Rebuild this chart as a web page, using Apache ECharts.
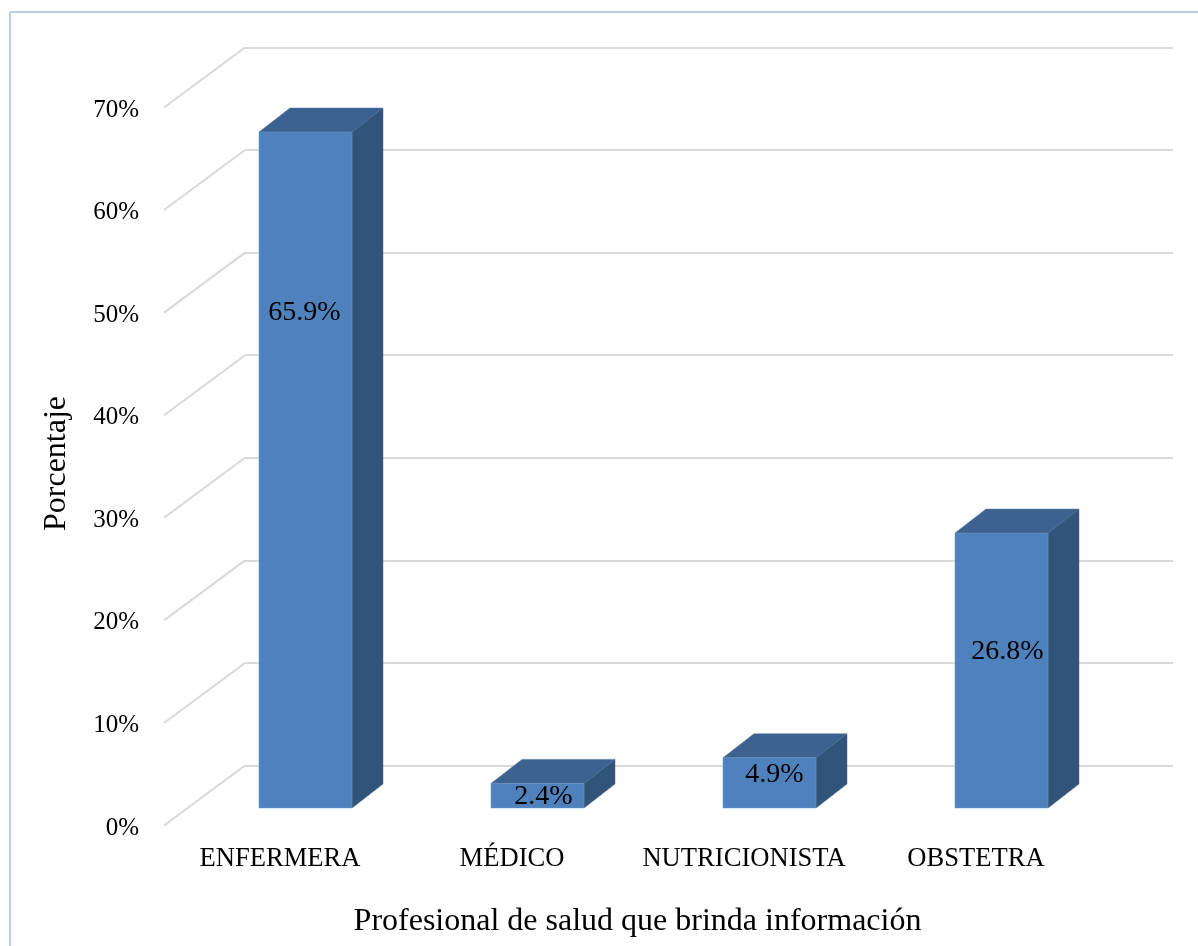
<!DOCTYPE html>
<html>
<head>
<meta charset="utf-8">
<style>html,body{margin:0;padding:0;background:#fff}#chart{width:1198px;height:946px}</style>
<script src="https://cdn.jsdelivr.net/npm/echarts@6/dist/echarts.min.js"></script>
</head>
<body>
<div id="chart"></div>
<script>
const categories = ['ENFERMERA', 'MÉDICO', 'NUTRICIONISTA', 'OBSTETRA'];
const values = [65.9, 2.4, 4.9, 26.8];
const valueLabels = ['65.9%', '2.4%', '4.9%', '26.8%'];
// height (in axis units) at which each data label sits inside its bar
const labelLevels = [48.3, 1.1, 3.3, 15.2];
const labelShiftX = [-1, 6, 5, 6];
const yTicks = [0, 10, 20, 30, 40, 50, 60, 70];

const FONT = '"Liberation Serif","Times New Roman",serif';
const DEPTH_X = 81, DEPTH_Y = 60;        // wall -> front of the floor
const FRONT_X = 55.5, FRONT_Y = 42.5;    // wall -> bar front face
const BACK_X = 24.5, BACK_Y = 18.5;      // wall -> bar back face
const HALF_W = 46.5;
const GRID_COLOR = '#d9d9d9';

function renderBar(params, api) {
  const i = api.value(0);
  const top = api.coord([i, api.value(1)]);
  const base = api.coord([i, 0]);
  const lab = api.coord([i, labelLevels[i]]);
  const fl = top[0] - FRONT_X - HALF_W, fr = top[0] - FRONT_X + HALF_W;
  const bl = top[0] - BACK_X - HALF_W, br = top[0] - BACK_X + HALF_W;
  const ft = top[1] + FRONT_Y, fb = base[1] + FRONT_Y;
  const bt = top[1] + BACK_Y, bb = base[1] + BACK_Y;
  return {
    type: 'group',
    children: [
      { type: 'polygon', shape: { points: [[fl, ft], [fr, ft], [br, bt], [bl, bt]] },
        style: { fill: '#3d6290', stroke: '#4a72a3', lineWidth: 0.5 } },
      { type: 'polygon', shape: { points: [[fr, ft], [br, bt], [br, bb], [fr, fb]] },
        style: { fill: '#32537a', stroke: '#4a6c96', lineWidth: 0.5 } },
      { type: 'rect', shape: { x: fl, y: ft, width: fr - fl, height: fb - ft },
        style: { fill: '#4f81bd', stroke: '#6b96c8', lineWidth: 0.5 } },
      { type: 'text', x: top[0] - FRONT_X + labelShiftX[i], y: lab[1] + FRONT_Y,
        style: { text: valueLabels[i], fill: '#000', font: '28px ' + FONT, align: 'center', verticalAlign: 'middle' } }
    ]
  };
}

function renderDiagonal(params, api) {
  const p = api.coord([0, api.value(1)]);
  const x0 = params.coordSys.x;
  return { type: 'line', shape: { x1: x0, y1: p[1], x2: x0 - DEPTH_X, y2: p[1] + DEPTH_Y },
    style: { stroke: GRID_COLOR, lineWidth: 2 } };
}

const chart = echarts.init(document.getElementById('chart'), null, { renderer: 'canvas' });
chart.setOption({
  animation: false,
  backgroundColor: '#ffffff',
  grid: [
    { left: 245, top: 47.5, width: 928, height: 718, containLabel: false },
    { left: 164, top: 110, width: 928, height: 718, containLabel: false }
  ],
  xAxis: [
    { type: 'category', gridIndex: 0, data: categories, axisLine: { show: false }, axisTick: { show: false }, axisLabel: { show: false } },
    { type: 'category', gridIndex: 1, data: categories,
      axisLine: { show: false }, axisTick: { show: false },
      axisLabel: { color: '#000', fontFamily: FONT, fontSize: 26.6, margin: 17.5, interval: 0 },
      name: 'Profesional de salud que brinda información', nameLocation: 'middle', nameGap: 77.5,
      nameTextStyle: { color: '#000', fontFamily: FONT, fontSize: 32, padding: [0, 0, 0, 19] } }
  ],
  yAxis: [
    { type: 'value', gridIndex: 0, min: 0, max: 70, interval: 10,
      axisLine: { show: false }, axisTick: { show: false }, axisLabel: { show: false },
      splitLine: { show: true, lineStyle: { color: GRID_COLOR, width: 2 } } },
    { type: 'value', gridIndex: 1, min: 0, max: 70, interval: 10,
      axisLine: { show: false }, axisTick: { show: false }, splitLine: { show: false },
      axisLabel: { color: '#000', fontFamily: FONT, fontSize: 25, margin: 25, formatter: '{value}%' },
      name: 'Porcentaje', nameLocation: 'middle', nameGap: 91, nameRotate: 90,
      nameTextStyle: { color: '#000', fontFamily: FONT, fontSize: 32, padding: [0, 0, 0, 11] } }
  ],
  series: [
    { type: 'custom', xAxisIndex: 0, yAxisIndex: 0, silent: true, z: 1,
      data: yTicks.map(t => [0, t]), renderItem: renderDiagonal },
    { type: 'custom', xAxisIndex: 0, yAxisIndex: 0, silent: true, z: 5,
      data: values.map((v, i) => [i, v]), renderItem: renderBar }
  ],
  graphic: [
    { type: 'line', silent: true, shape: { x1: 10, y1: 12, x2: 1198, y2: 12 }, style: { stroke: '#b9d0e8', lineWidth: 2 } },
    { type: 'line', silent: true, shape: { x1: 10, y1: 12, x2: 10, y2: 946 }, style: { stroke: '#b9d0e8', lineWidth: 2 } }
  ]
});
</script>
</body>
</html>
